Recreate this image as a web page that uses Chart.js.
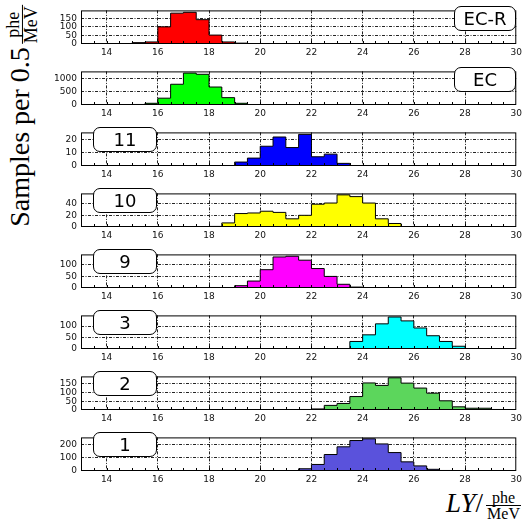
<!DOCTYPE html>
<html>
<head>
<meta charset="utf-8">
<script src="https://cdn.jsdelivr.net/npm/chart.js@4.4.0/dist/chart.umd.min.js"></script>
<style>
  body { margin: 0; background: #fff; }
  #page { position: relative; width: 525px; height: 521px; overflow: hidden; }
  .panel { position: absolute; left: 0; }
  .tag {
    position: absolute; box-sizing: border-box; height: 25px;
    border: 1px solid #000; border-radius: 7px; background: #fff;
    font: 18px "DejaVu Sans", sans-serif; line-height: 23px; text-align: center; color: #000;
  }
  .serif { font-family: "Liberation Serif", "DejaVu Serif", serif; color: #000; }
  .frac { display: inline-block; vertical-align: middle; text-align: center; }
  .frac span { display: block; padding: 0 1px; }
  .frac .num { border-bottom: 1px solid #000; }
</style>
</head>
<body>
<div id="page">
  <div id="ytitle" class="serif" style="position:absolute; left:22px; top:116px; transform:translate(-50%,-50%) rotate(-90deg); white-space:nowrap; font-size:28px;">
    Samples per 0.5<span class="frac" style="font-size:18px; line-height:17px; margin-left:3px;"><span class="num">phe</span><span>MeV</span></span>
  </div>
  <div id="xtitle" class="serif" style="position:absolute; right:4px; top:488px; white-space:nowrap; font-size:27px;">
    <i>LY</i>/<span class="frac" style="font-size:16px; line-height:15px; margin-left:3px;"><span class="num">phe</span><span>MeV</span></span>
  </div>
</div>
<script>
// panel labels, top to bottom
const labels = ["EC-R", "EC", "11", "10", "9", "3", "2", "1"];
const colors = ["#ff0000", "#00ff00", "#0000ff", "#ffff00", "#ff00ff", "#00ffff", "#5cd65c", "#5a52dc"];

// left edge of first bin (bins are 0.5 phe/MeV wide)
const binStart = [15, 15, 19, 18, 19, 22, 21.5, 17];

// counts per bin
const countsECR = [8, 12, 100, 180, 185, 142, 52, 12, 5];
const countsEC  = [20, 65, 260, 790, 1215, 1170, 685, 280, 65];
const counts11  = [3, 6, 15, 22, 14, 24, 7, 9, 2];
const counts10  = [1, 7, 23, 24, 27, 25, 14, 20, 39, 41, 55, 52, 41, 14, 6];
const counts9   = [10, 30, 79, 134, 137, 120, 84, 50, 16, 4];
const counts3   = [2, 0, 2, 33, 62, 110, 140, 123, 92, 58, 33, 12];
const counts2   = [3, 6, 26, 37, 76, 153, 139, 182, 152, 124, 95, 52, 18, 10, 10, 3];
const counts1   = [3, 0, 0, 3, 0, 0, 0, 2, 2, 17, 50, 126, 185, 233, 246, 207, 141, 70, 39, 13, 4];
const counts = [countsECR, countsEC, counts11, counts10, counts9, counts3, counts2, counts1];

// axis ranges and ticks
const yMax = [196, 1280, 25.5, 57.5, 145, 147, 190, 257];
const yTicks = [[0, 50, 100, 150], [0, 500, 1000], [0, 10, 20], [0, 20, 40],
                [0, 50, 100], [0, 50, 100], [0, 50, 100, 150], [0, 100, 200]];
const xTicks = [14, 16, 18, 20, 22, 24, 26, 28, 30];

const tickFont = { family: "DejaVu Sans", size: 9 };

function histPoints(start, c) {
  const pts = [{ x: start, y: 0 }];
  c.forEach((v, k) => pts.push({ x: start + k * 0.5, y: v }));
  pts.push({ x: start + c.length * 0.5, y: 0 });
  return pts;
}

const frame = {
  id: "frame",
  afterDraw(chart) {
    const a = chart.chartArea, ctx = chart.ctx, xs = chart.scales.x;
    ctx.save();
    ctx.strokeStyle = "#000";
    ctx.lineWidth = 1;
    // inward minor ticks on bottom
    ctx.beginPath();
    for (let v = 13.5; v < 30; v += 0.5) {
      const px = Math.round(xs.getPixelForValue(v)) + 0.5;
      ctx.moveTo(px, a.bottom);
      ctx.lineTo(px, a.bottom - 3);
    }
    ctx.stroke();
    ctx.strokeRect(a.left + 0.5, a.top + 0.5, a.width - 1, a.height - 1);
    ctx.restore();
  }
};

const page = document.getElementById("page");
const topPad = 4;

labels.forEach((lab, i) => {
  const panelTop = 5 + i * 61;
  const wrap = document.createElement("div");
  wrap.className = "panel";
  wrap.style.top = (panelTop - topPad) + "px";
  const cv = document.createElement("canvas");
  cv.width = 525;
  cv.height = 59;
  wrap.appendChild(cv);
  page.appendChild(wrap);

  new Chart(cv, {
    type: "line",
    data: {
      datasets: [{
        data: histPoints(binStart[i], counts[i]),
        stepped: true,
        fill: "origin",
        backgroundColor: colors[i],
        borderColor: "#000",
        borderWidth: 1,
        pointRadius: 0
      }]
    },
    options: {
      responsive: false,
      animation: false,
      layout: { padding: { top: topPad, right: 5, left: 0, bottom: 0 } },
      plugins: { legend: { display: false }, tooltip: { enabled: false } },
      scales: {
        x: {
          type: "linear", min: 13, max: 30,
          afterBuildTicks: s => { s.ticks = xTicks.map(v => ({ value: v })); },
          afterFit: s => { s.height = 16; },
          ticks: { font: tickFont, color: "#111", padding: 3, autoSkip: false, maxRotation: 0, callback: v => String(v) },
          grid: { drawTicks: false, lineWidth: 1, color: c => (c.tick && c.tick.value < 30) ? "#222" : "rgba(0,0,0,0)" },
          border: { display: false, dash: [3, 1.5, 1, 1.5] }
        },
        y: {
          min: 0, max: yMax[i],
          afterBuildTicks: s => { s.ticks = yTicks[i].map(v => ({ value: v })); },
          afterFit: s => { s.width = 81; },
          ticks: { font: tickFont, color: "#111", padding: 4, autoSkip: false, callback: v => String(v) },
          grid: { drawTicks: false, lineWidth: 1, color: c => (c.tick && c.tick.value > 0) ? "#222" : "rgba(0,0,0,0)" },
          border: { display: false, dash: [3, 1.5, 1, 1.5] }
        }
      }
    },
    plugins: [frame]
  });

  const tag = document.createElement("div");
  tag.className = "tag";
  tag.textContent = lab;
  if (i < 2) {
    tag.style.left = "454px";
    tag.style.width = "62px";
    tag.style.top = (panelTop + 1) + "px";
  } else {
    tag.style.left = "93px";
    tag.style.width = "64px";
    tag.style.top = panelTop + "px";
  }
  page.appendChild(tag);
});
</script>
</body>
</html>
